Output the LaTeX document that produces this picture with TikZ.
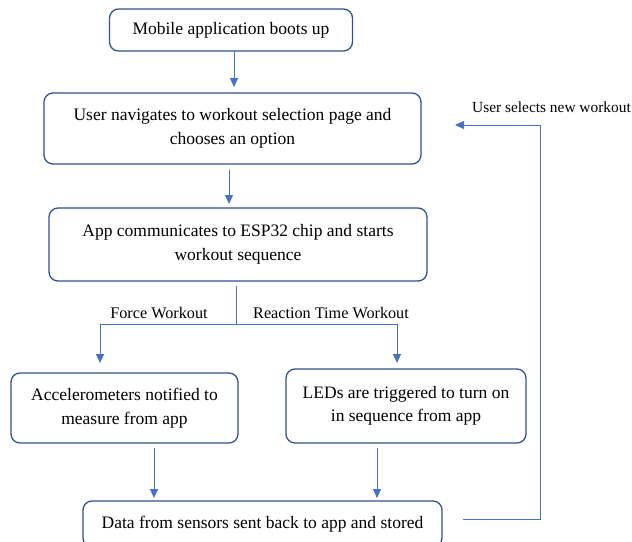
\documentclass[tikz,border=0pt]{standalone}
\usepackage{fontspec}
\setmainfont{Liberation Serif}
\usetikzlibrary{arrows.meta}
\definecolor{boxline}{RGB}{47,82,143}
\definecolor{arrline}{RGB}{68,114,196}
\tikzset{
  flowbox/.style={draw=boxline, line width=1.3pt, rounded corners=9pt, align=center,
    inner sep=0pt, font=\fontsize{17.5}{23.5}\selectfont},
  arr/.style={draw=arrline, line width=0.9pt, -{Triangle[width=8pt,length=9pt]}},
  plain/.style={draw=arrline, line width=0.9pt},
  lbl/.style={font=\fontsize{16.2}{18}\selectfont, inner sep=0pt}
}
\begin{document}
\begin{tikzpicture}[x=1pt,y=-1pt]
\useasboundingbox (0,0) rectangle (632,541);
\clip (0,0) rectangle (632,541);
\node[flowbox, minimum width=243pt, minimum height=42pt] (b1) at (231,30) {Mobile application boots up};
\node[flowbox, minimum width=377pt, minimum height=71pt] (b2) at (232.5,128.5) {User navigates to workout selection page and\\chooses an option};
\node[flowbox, minimum width=378pt, minimum height=73pt] (b3) at (238,244.5) {App communicates to ESP32 chip and starts\\workout sequence};
\node[flowbox, minimum width=227pt, minimum height=70pt] (b4) at (124.5,408) {Accelerometers notified to\\measure from app};
\node[flowbox, minimum width=240pt, minimum height=74pt] (b5) at (406,406) {LEDs are triggered to turn on\\in sequence from app};
\node[flowbox, minimum width=359pt, minimum height=46pt] (b6) at (262.5,524) {Data from sensors sent back to app and stored};

\node[lbl] (lf) at (159,313) {Force Workout};
\node[lbl] (lr) at (331,313) {Reaction Time Workout};
\node[lbl, anchor=east, font=\fontsize{15.4}{18}\selectfont] (lu) at (631,107) {User selects new workout};

\coordinate (a1s) at (234,51);
\coordinate (a1e) at (234,87);
\draw[arr] (a1s) -- (a1e);
\coordinate (a2s) at (229,170);
\coordinate (a2e) at (229,204);
\draw[arr] (a2s) -- (a2e);
\coordinate (s0) at (236,286);
\coordinate (split) at (236,324);
\coordinate (t4) at (100,363);
\coordinate (t5) at (397,363);
\draw[plain] (s0) -- (split);
\draw[arr] (split) -| (t4);
\draw[arr] (split) -| (t5);
\coordinate (c4s) at (154,448);
\coordinate (c4e) at (154,498);
\coordinate (c5s) at (377,448);
\coordinate (c5e) at (377,498);
\draw[arr] (c4s) -- (c4e);
\draw[arr] (c5s) -- (c5e);
\coordinate (fs) at (463,519);
\coordinate (fc) at (540,125);
\coordinate (fe) at (455,125);
\draw[arr] (fs) -| (fc) -- (fe);
\end{tikzpicture}
\end{document}
